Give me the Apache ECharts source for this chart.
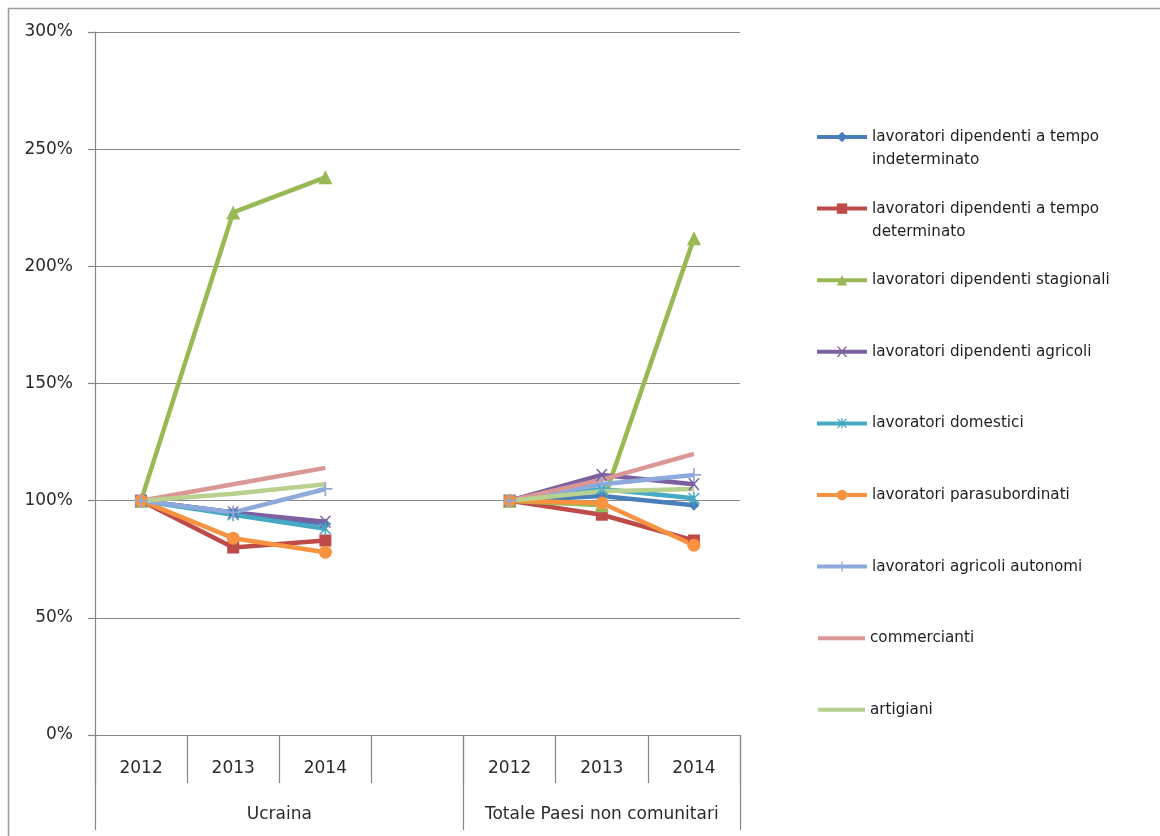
<!DOCTYPE html>
<html>
<head>
<meta charset="utf-8">
<script src="https://cdn.jsdelivr.net/npm/echarts@6/dist/echarts.min.js"></script>
<style>
html,body{margin:0;padding:0;background:#fff;}
#chart{width:1160px;height:836px;}
</style>
</head>
<body>
<div id="chart"></div>
<script>
// ---- data ----
const categories = ['2012', '2013', '2014', '', '2012', '2013', '2014'];
const groupLabels = ['Ucraina', 'Totale Paesi non comunitari'];
const yTicks = [0, 50, 100, 150, 200, 250, 300];

const seriesNames = [
  'lavoratori dipendenti a tempo indeterminato',
  'lavoratori dipendenti a tempo determinato',
  'lavoratori dipendenti stagionali',
  'lavoratori dipendenti agricoli',
  'lavoratori domestici',
  'lavoratori parasubordinati',
  'lavoratori agricoli autonomi',
  'commercianti',
  'artigiani'
];
const legendLines = [
  'lavoratori dipendenti a tempo\nindeterminato',
  'lavoratori dipendenti a tempo\ndeterminato',
  'lavoratori dipendenti stagionali',
  'lavoratori dipendenti agricoli',
  'lavoratori domestici',
  'lavoratori parasubordinati',
  'lavoratori agricoli autonomi',
  'commercianti',
  'artigiani'
];
const indeterminato = [100, 95, 90, null, 100, 102, 98];
const determinato   = [100, 80, 83, null, 100, 94, 83];
const stagionali    = [100, 223, 238, null, 100, 98, 212];
const agricoli      = [100, 95, 91, null, 100, 111, 107];
const domestici     = [100, 94, 88, null, 100, 105, 101];
const parasub       = [100, 84, 78, null, 100, 99, 81];
const autonomi      = [100, 95, 105, null, 100, 107, 111];
const commercianti  = [100, 107, 114, null, 100, 109, 120];
const artigiani     = [100, 103, 107, null, 100, 104, 105];

// ---- styles ----
const seriesData = [indeterminato, determinato, stagionali, agricoli, domestici, parasub, autonomi, commercianti, artigiani];
const colors = ['#4A7EBB', '#BE4B48', '#98B954', '#7D60A0', '#46AAC5', '#F69240', '#8EA9DB', '#D99795', '#B9D18F'];
const X_PATH = 'path://M0,0 L1.6,0 L5,3.8 L8.4,0 L10,0 L5.8,4.8 L10,10 L8.4,10 L5,6 L1.6,10 L0,10 L4.2,4.8 Z';
const STAR_PATH = 'path://M0,0 L1.6,0 L5,3.8 L8.4,0 L10,0 L5.8,4.8 L10,10 L8.4,10 L5,6 L1.6,10 L0,10 L4.2,4.8 Z M4.4,-1 L5.6,-1 L5.6,11 L4.4,11 Z';
const PLUS_PATH = 'path://M4.4,0 L5.6,0 L5.6,4.4 L10,4.4 L10,5.6 L5.6,5.6 L5.6,10 L4.4,10 L4.4,5.6 L0,5.6 L0,4.4 L4.4,4.4 Z';
const symbols = ['diamond', 'rect', 'triangle', X_PATH, STAR_PATH, 'circle', PLUS_PATH, 'none', 'none'];
const symbolSizes = [11, 12, 14, 12, 13, 13, 14, 0, 0];

const FONT = 'DejaVu Sans';
const gray = '#878787';

const series = seriesNames.map((name, i) => ({
  name: name,
  type: 'line',
  xAxisIndex: 0,
  yAxisIndex: 0,
  data: seriesData[i],
  symbol: symbols[i],
  symbolSize: symbolSizes[i],
  showSymbol: symbols[i] !== 'none',
  connectNulls: false,
  color: colors[i],
  lineStyle: { width: 4.5, color: colors[i] },
  itemStyle: { color: colors[i] },
  emphasis: { disabled: true },
  animation: false
}));

const legends = seriesNames.map((name, i) => {
  const twoLine = legendLines[i].indexOf('\n') >= 0;
  const noSymbol = symbols[i] === 'none';
  const center = 137 + i * 71.6;
  const h = twoLine ? 69 : 23;
  const item = noSymbol ? { name: name, icon: 'rect' } : { name: name };
  return {
    orient: 'vertical',
    left: noSymbol ? 818 : 815,
    top: center - h / 2,
    data: [item],
    itemWidth: noSymbol ? 47 : 50,
    itemHeight: noSymbol ? 4 : 13,
    itemGap: 5,
    padding: 0,
    selectedMode: false,
    lineStyle: { width: 4 },
    formatter: () => (twoLine ? '\n' + legendLines[i] : legendLines[i]),
    textStyle: {
      fontFamily: FONT,
      fontSize: 15.2,
      color: '#1e1e1e',
      lineHeight: 23
    }
  };
});

const chart = echarts.init(document.getElementById('chart'), null, { renderer: 'canvas' });
chart.setOption({
  animation: false,
  backgroundColor: '#ffffff',
  graphic: [{
    type: 'rect',
    left: 6, top: 6,
    shape: { width: 1170, height: 840 },
    style: { fill: 'none', stroke: '#9a9a9a', lineWidth: 1.5 },
    silent: true
  }],
  grid: { left: 95, right: 420, top: 32, bottom: 101, containLabel: false },
  legend: legends,
  xAxis: [{
    type: 'category',
    data: categories,
    boundaryGap: true,
    position: 'bottom',
    axisLine: { show: true, lineStyle: { color: gray, width: 1.2 } },
    axisTick: { show: true, interval: 0, length: 48, lineStyle: { color: gray, width: 1.2 } },
    axisLabel: { interval: 0, margin: 25, fontFamily: FONT, fontSize: 17, color: '#2b2b2b' },
    splitLine: { show: false }
  }, {
    type: 'value',
    min: 0,
    max: categories.length,
    position: 'bottom',
    axisLine: { show: false },
    axisTick: { show: true, customValues: [0, 4, 7], length: 95, lineStyle: { color: gray, width: 1.2 } },
    axisLabel: {
      customValues: [2, 5.5],
      margin: 71,
      fontFamily: FONT, fontSize: 17, color: '#2b2b2b',
      formatter: (v) => (v < 4 ? groupLabels[0] : groupLabels[1])
    },
    splitLine: { show: false }
  }],
  yAxis: {
    type: 'value',
    min: yTicks[0],
    max: yTicks[yTicks.length - 1],
    interval: 50,
    axisLine: { show: true, lineStyle: { color: gray, width: 1.2 } },
    axisTick: { show: true, length: 7, lineStyle: { color: gray, width: 1.2 } },
    axisLabel: { margin: 22, fontFamily: FONT, fontSize: 17, color: '#2b2b2b', formatter: '{value}%' },
    splitLine: { show: true, lineStyle: { color: gray, width: 1.2 } }
  },
  series: series
});
</script>
</body>
</html>
